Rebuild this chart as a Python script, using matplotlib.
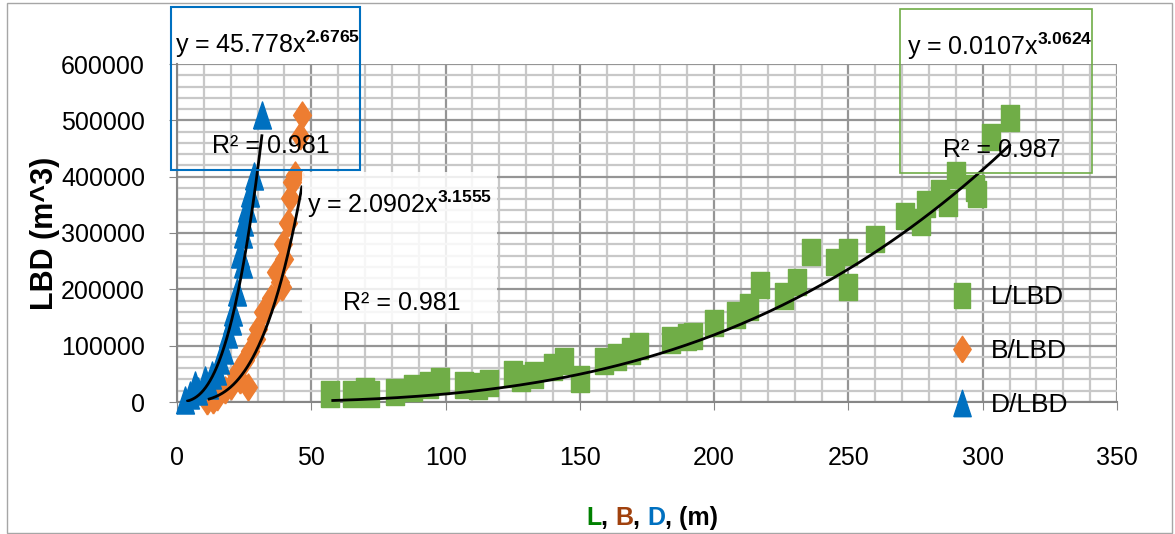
import numpy as np
import matplotlib
matplotlib.use('Agg')
import matplotlib.pyplot as plt
from matplotlib.patches import Rectangle
from matplotlib.lines import Line2D
from matplotlib.ticker import MultipleLocator, StrMethodFormatter

plt.rcParams['font.family'] = ['Liberation Sans', 'DejaVu Sans']
plt.rcParams['mathtext.fontset'] = 'custom'
plt.rcParams['mathtext.rm'] = 'Liberation Sans'
plt.rcParams['mathtext.bf'] = 'Liberation Sans:bold'

# L / LBD (green squares)
L_x = [57, 65, 72, 70, 81, 88, 94, 98, 107, 116, 112, 125, 133, 128, 144, 140,
       150, 159, 164, 169, 172, 184, 190, 192, 200, 208, 213, 217, 226, 231,
       236, 245, 250, 250, 260, 271, 277, 279, 284, 287, 290, 297, 298, 303, 310]
L_y = [15000, 15000, 14000, 20000, 18000, 25000, 30000, 38000, 30000, 34000,
       28000, 50000, 48000, 42000, 72000, 62000, 41000, 73000, 80000, 91000,
       100000, 110000, 115000, 118000, 140000, 154000, 168000, 208000, 188000,
       213000, 267000, 249000, 267000, 205000, 290000, 331000, 320000, 352000,
       371000, 353000, 403000, 380000, 370000, 470000, 505000]

# B / LBD (orange diamonds)
B_x = [11, 13.4, 15, 17.8, 20, 22, 23.4, 26.4, 25.3, 27, 29.4, 30, 32, 35, 37,
       38.3, 39, 40, 39.4, 41.3, 42, 43, 44, 45.7, 46.5]
B_y = [2000, 4000, 8000, 21000, 28000, 50000, 39000, 27000, 75000, 90000,
       111000, 130000, 160000, 185000, 230000, 213000, 204000, 254000, 281000,
       317000, 362000, 390000, 403000, 473000, 509000]

# D / LBD (blue triangles)
D_x = [3, 4.8, 6.7, 8, 10.4, 12, 13, 15, 16, 17.5, 19, 20.4, 21, 22.3, 23.4,
       24.5, 24.5, 25, 26, 27, 28.6, 31.6]
D_y = [3600, 12500, 30000, 20000, 39000, 30000, 48000, 55000, 75000, 93000,
       120000, 143000, 160000, 195000, 263000, 245000, 299000, 320000, 344000,
       371000, 401000, 509000]

# power trendlines (coefficients shown on the chart)
fits = {'L': (0.0107, 3.0624), 'B': (2.0902, 3.1555), 'D': (45.778, 2.6765)}

green = '#70AD47'
orange = '#ED7D31'
blue = '#0070C0'

W, H = 1175, 534


def fx(px):
    return px / W


def fy(py):
    return 1 - py / H


sq = [(-0.33, -0.5), (0.33, -0.5), (0.33, 0.5), (-0.33, 0.5), (-0.33, -0.5)]
dia = [(0, -0.5), (0.33, 0), (0, 0.5), (-0.33, 0), (0, -0.5)]
tri = [(-0.33, -0.5), (0.33, -0.5), (0, 0.5), (-0.33, -0.5)]

fig = plt.figure(figsize=(W / 100, H / 100), dpi=100)
ax = fig.add_axes([fx(177), fy(402), fx(1117) - fx(177), fy(64) - fy(402)])

ax.scatter(L_x, L_y, marker=sq, s=350, color=green, zorder=3, clip_on=False)
ax.scatter(B_x, B_y, marker=dia, s=380, color=orange, zorder=3, clip_on=False)
ax.scatter(D_x, D_y, marker=tri, s=380, color=blue, zorder=3, clip_on=False)

for key, xs in (('L', L_x), ('B', B_x), ('D', D_x)):
    a, b = fits[key]
    xx = np.linspace(min(xs) + 1, max(xs), 200)
    ax.plot(xx, a * xx ** b, color='black', lw=2, zorder=4)

ax.set_xlim(0, 350)
ax.set_ylim(0, 600000)
ax.xaxis.set_major_locator(MultipleLocator(50))
ax.xaxis.set_minor_locator(MultipleLocator(10))
ax.yaxis.set_major_locator(MultipleLocator(100000))
ax.yaxis.set_minor_locator(MultipleLocator(20000))
ax.yaxis.set_major_formatter(StrMethodFormatter('{x:.0f}'))
ax.grid(which='major', color='#959595', lw=1.6)
ax.grid(which='minor', color='#c8c8c8', lw=1.6)
ax.set_axisbelow(True)
ax.tick_params(which='major', direction='out', length=6, color='#868686',
               labelsize=18)
ax.tick_params(axis='x', pad=26)
ax.tick_params(axis='y', pad=17)
ax.tick_params(which='minor', length=0)
for s in ('top', 'right'):
    ax.spines[s].set_visible(False)
for s in ('left', 'bottom'):
    ax.spines[s].set_color('#868686')
    ax.spines[s].set_linewidth(1.5)

# equation boxes
fig.add_artist(Rectangle((fx(171), fy(170)), fx(360) - fx(171), fy(7) - fy(170),
                         transform=fig.transFigure, fill=False, ec=blue, lw=1.5))
fig.add_artist(Rectangle((fx(900), fy(173)), fx(1092) - fx(900), fy(9) - fy(173),
                         transform=fig.transFigure, fill=False, ec=green, lw=1.2))
fig.add_artist(Rectangle((fx(302), fy(322)), fx(497) - fx(302), fy(172) - fy(322),
                         transform=fig.transFigure, fc='white', ec='none', alpha=0.85))

tk = dict(fontsize=18, va='baseline', ha='left')
fig.text(fx(175), fy(53), r'y = 45.778x$^{\mathbf{2.6765}}$', **tk)
fig.text(fx(212), fy(153), 'R² = 0.981', **tk)
fig.text(fx(307), fy(213), r'y = 2.0902x$^{\mathbf{3.1555}}$', **tk)
fig.text(fx(343), fy(310), 'R² = 0.981', **tk)
fig.text(fx(907), fy(55), r'y = 0.0107x$^{\mathbf{3.0624}}$', **tk)
fig.text(fx(943), fy(157), 'R² = 0.987', **tk)

# legend
handles = [Line2D([], [], marker=sq, color=green, ls='none', markersize=18),
           Line2D([], [], marker=dia, color=orange, ls='none', markersize=19),
           Line2D([], [], marker=tri, color=blue, ls='none', markersize=19)]
fig.legend(handles, ['L/LBD', 'B/LBD', 'D/LBD'], loc='upper left',
           bbox_to_anchor=(fx(922), fy(261)), frameon=False, fontsize=19,
           labelspacing=1.15, handletextpad=0.5, handlelength=1.2)

# axis titles
fig.text(fx(45), fy(233), 'LBD (m^3)', rotation=90, ha='center', va='center',
         fontsize=22, fontweight='bold')

# multicoloured x title, each piece placed after the previous one
parts = [(', ', 'black'), ('B', '#A0410D'), (', ', 'black'),
         ('D', blue), (', (m)', 'black')]
t = fig.text(fx(586), fy(530), 'L', color='#008000', fontsize=18,
             fontweight='bold', va='bottom')
for s, c in parts:
    t = ax.annotate(s, xy=(1, 0), xycoords=t, va='bottom', ha='left',
                    color=c, fontsize=18, fontweight='bold')

# figure border
fig.add_artist(Rectangle((fx(7), fy(533)), fx(1172) - fx(7), fy(3) - fy(533),
                         transform=fig.transFigure, fill=False, ec='#a6a6a6', lw=1))

fig.savefig('out.png', dpi=100)
